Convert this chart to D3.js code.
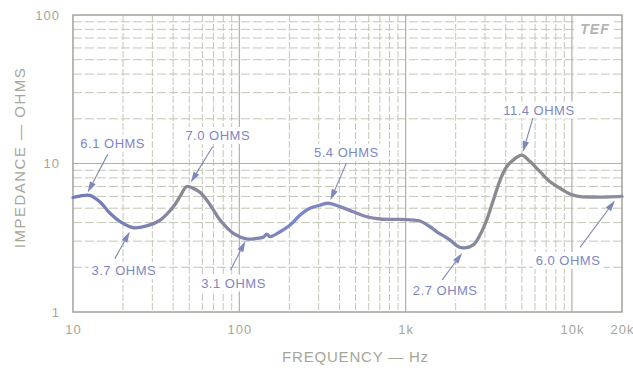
<!DOCTYPE html>
<html>
<head>
<meta charset="utf-8">
<script src="https://cdn.jsdelivr.net/npm/d3@7/dist/d3.min.js"></script>
<style>
  html, body { margin: 0; padding: 0; background: #fff; }
  svg { display: block; }
</style>
</head>
<body>
<svg id="chart" width="633" height="371"></svg>
<script>
// Loudspeaker impedance magnitude vs. frequency (log-log)
const frequencyHz = [10, 11, 12.6, 14.5, 16.7, 19.2, 22.9, 27.7, 33.4, 40.1, 44, 48.3, 53, 58, 63.7, 70, 76.6, 92,
  112, 125, 140, 146, 153, 176, 202, 232, 266, 306, 343, 403, 485, 583, 702, 925, 1220, 1400, 1540, 1850,
  2080, 2250, 2550, 2800, 3070, 3370, 3700, 4050, 4550, 5000, 5600, 6430, 7390, 8480, 9740, 11190, 13450,
  16180, 20000];
const impedanceOhms = [5.9, 6.04, 6.1, 5.53, 4.62, 4.06, 3.7, 3.8, 4.16, 5.12, 6.0, 7.0, 6.8, 6.4, 5.68, 4.85, 4.16, 3.39,
  3.1, 3.12, 3.2, 3.35, 3.22, 3.47, 3.85, 4.5, 4.99, 5.25, 5.4, 5.12, 4.73, 4.38, 4.23, 4.2, 4.1, 3.75, 3.47, 3.05,
  2.75, 2.7, 2.83, 3.3, 4.16, 5.68, 7.74, 9.52, 10.8, 11.4, 10.3, 8.81, 7.54, 6.81, 6.23, 5.98, 5.95,
  5.95, 6.0];

// Annotated extremes (frequency, impedance)
const noteFreqs = [12.6, 22.9, 48.3, 112, 343, 2250, 5000, 20000];
const noteOhms = [6.1, 3.7, 7.0, 3.1, 5.4, 2.7, 11.4, 6.0];

// Axis ticks
const xTickValues = [10, 100, 1000, 10000, 20000];
const xTickLabels = ["10", "100", "1k", "10k", "20k"];
const yTickValues = [1, 10, 100];
const yTickLabels = ["1", "10", "100"];

// Callout placement: label centre, arrow tail, arrow tip (offsets from the point)
const noteLayout = [
  { lx: 23, ly: -52, tx: 18, ty: -41, hx: -2, hy: -3 },
  { lx: -9, ly: 43, tx: -18, ty: 31, hx: -3, hy: 4 },
  { lx: 31, ly: -51, tx: 26, ty: -40, hx: 4, hy: -4 },
  { lx: -14, ly: 44, tx: -17, ty: 31, hx: -2, hy: 2 },
  { lx: 18, ly: -51, tx: 18, ty: -40, hx: 2, hy: -3 },
  { lx: -19, ly: 43, tx: -22, ty: 32, hx: -2, hy: 5 },
  { lx: 17, ly: -45, tx: 11, ty: -37, hx: 1, hy: -3 },
  { lx: -54, ly: 64, tx: -42, ty: 51, hx: -7, hy: 4 }
];

const W = 633, H = 371;
const margin = { top: 15, right: 11, bottom: 59, left: 73 };
const x = d3.scaleLog().domain([10, 20000]).range([margin.left, W - margin.right]);
const y = d3.scaleLog().domain([1, 100]).range([H - margin.bottom, margin.top]);

const svg = d3.select("#chart");
const labelFont = "'Liberation Sans', Arial, sans-serif";

// ---- log grid ----
const minorX = [], majorX = [100, 1000, 10000];
[10, 100, 1000].forEach(d => { for (let m = 2; m <= 9; m++) minorX.push(d * m); });
const minorY = [], majorY = [10];
[1, 10].forEach(d => { for (let m = 2; m <= 9; m++) minorY.push(d * m); });

const grid = svg.append("g").attr("class", "grid");
grid.selectAll("line.vminor").data(minorX).join("line")
  .attr("x1", d => x(d)).attr("x2", d => x(d))
  .attr("y1", y(100)).attr("y2", y(1))
  .attr("stroke", "#c4c6b6").attr("stroke-width", 1)
  .attr("stroke-dasharray", "7,2");
grid.selectAll("line.hminor").data(minorY).join("line")
  .attr("x1", x(10)).attr("x2", x(20000))
  .attr("y1", d => y(d)).attr("y2", d => y(d))
  .attr("stroke", "#c4c6b6").attr("stroke-width", 1)
  .attr("stroke-dasharray", "9,3");
grid.selectAll("line.vmajor").data(majorX).join("line")
  .attr("x1", d => x(d)).attr("x2", d => x(d))
  .attr("y1", y(100)).attr("y2", y(1))
  .attr("stroke", "#b0b0a6").attr("stroke-width", 1.2);
grid.selectAll("line.hmajor").data(majorY).join("line")
  .attr("x1", x(10)).attr("x2", x(20000))
  .attr("y1", d => y(d)).attr("y2", d => y(d))
  .attr("stroke", "#b0b0a6").attr("stroke-width", 1.2);

// TEF badge in the upper-right corner
svg.append("rect")
  .attr("x", x(20000) - 46).attr("y", y(100) + 1)
  .attr("width", 38).attr("height", 29)
  .attr("fill", "#fff");
svg.append("text")
  .attr("x", x(20000) - 27).attr("y", y(100) + 19)
  .attr("text-anchor", "middle")
  .attr("font-family", labelFont).attr("font-style", "italic").attr("font-weight", "bold")
  .attr("font-size", 14).attr("fill", "#b4b4b4").attr("letter-spacing", 1)
  .text("TEF");

// frame
svg.append("rect")
  .attr("x", x(10)).attr("y", y(100))
  .attr("width", x(20000) - x(10)).attr("height", y(1) - y(100))
  .attr("fill", "none").attr("stroke", "#a3a39c").attr("stroke-width", 1.5);

// ---- axes ----
const xAxis = d3.axisBottom(x).tickValues(xTickValues).tickSize(0)
  .tickFormat((d, i) => xTickLabels[i]);
svg.append("g").attr("transform", `translate(0,${y(1) + 10})`).call(xAxis)
  .call(g => g.select(".domain").remove())
  .call(g => g.selectAll("text").attr("font-family", labelFont).attr("font-size", 13)
    .attr("fill", "#a6a698").attr("letter-spacing", 1));

const yAxis = d3.axisLeft(y).tickValues(yTickValues).tickSize(0)
  .tickFormat((d, i) => yTickLabels[i]);
svg.append("g").attr("transform", `translate(${x(10) - 10},0)`).call(yAxis)
  .call(g => g.select(".domain").remove())
  .call(g => g.selectAll("text").attr("font-family", labelFont).attr("font-size", 13)
    .attr("fill", "#a6a698").attr("letter-spacing", 1));

svg.append("text")
  .attr("x", (x(10) + x(20000)) / 2 + 8).attr("y", 362)
  .attr("text-anchor", "middle")
  .attr("font-family", labelFont).attr("font-size", 15).attr("letter-spacing", 0.8)
  .attr("fill", "#a6a698")
  .text("FREQUENCY — Hz");

svg.append("text")
  .attr("transform", `translate(25,${(y(1) + y(100)) / 2 - 6}) rotate(-90)`)
  .attr("text-anchor", "middle")
  .attr("font-family", labelFont).attr("font-size", 15).attr("letter-spacing", 1.5)
  .attr("fill", "#a6a698")
  .text("IMPEDANCE — OHMS");

// ---- impedance curve ----
const defs = svg.append("defs");
const grad = defs.append("linearGradient").attr("id", "curveTint")
  .attr("gradientUnits", "userSpaceOnUse")
  .attr("x1", x(10)).attr("x2", x(20000)).attr("y1", 0).attr("y2", 0);
[[0, "#6f7bc2"], [0.12, "#7a82b0"], [0.2, "#8a8a94"], [0.3, "#7f86aa"], [0.42, "#7a86cc"],
 [0.55, "#8a88a8"], [0.68, "#7c86b0"], [0.76, "#8a8a8e"], [0.88, "#8a8a90"], [1, "#8a8ea8"]]
  .forEach(([o, c]) => grad.append("stop").attr("offset", o).attr("stop-color", c));

const pts = frequencyHz.map((f, i) => [f, impedanceOhms[i]]);
const line = d3.line().x(d => x(d[0])).y(d => y(d[1])).curve(d3.curveCatmullRom.alpha(0.5));
svg.append("path").datum(pts)
  .attr("d", line)
  .attr("fill", "none")
  .attr("stroke", "url(#curveTint)")
  .attr("stroke-width", 3.3)
  .attr("stroke-linejoin", "round").attr("stroke-linecap", "round");

// ---- callouts ----
const noteColor = "#7e86c2";
const notes = svg.append("g").attr("class", "notes");
noteFreqs.forEach((f, i) => {
  const px = x(f), py = y(noteOhms[i]);
  const L = noteLayout[i];
  const tipX = px + L.hx, tipY = py + L.hy;
  const tailX = px + L.tx, tailY = py + L.ty;
  const g = notes.append("g");

  const txt = g.append("text")
    .attr("x", px + L.lx).attr("y", py + L.ly)
    .attr("text-anchor", "middle").attr("dominant-baseline", "central")
    .attr("font-family", labelFont).attr("font-size", 13).attr("letter-spacing", 0.5)
    .attr("fill", noteColor)
    .text(`${noteOhms[i].toFixed(1)} OHMS`);
  const bb = txt.node().getBBox();
  g.insert("rect", "text")
    .attr("x", bb.x - 3).attr("y", bb.y - 1)
    .attr("width", bb.width + 6).attr("height", bb.height + 2)
    .attr("fill", "#fff");

  // shaft
  const ang = Math.atan2(tipY - tailY, tipX - tailX);
  const headLen = 11, headHalf = 3.2;
  const baseX = tipX - headLen * Math.cos(ang), baseY = tipY - headLen * Math.sin(ang);
  g.append("line")
    .attr("x1", tailX).attr("y1", tailY).attr("x2", baseX).attr("y2", baseY)
    .attr("stroke", "#7f88b4").attr("stroke-width", 1.1);
  // head
  const nx = -Math.sin(ang), ny = Math.cos(ang);
  g.append("path")
    .attr("d", d3.line()([[tipX, tipY], [baseX + nx * headHalf, baseY + ny * headHalf],
      [baseX - nx * headHalf, baseY - ny * headHalf]]) + "Z")
    .attr("fill", "#7f88b8");
});
</script>
</body>
</html>
